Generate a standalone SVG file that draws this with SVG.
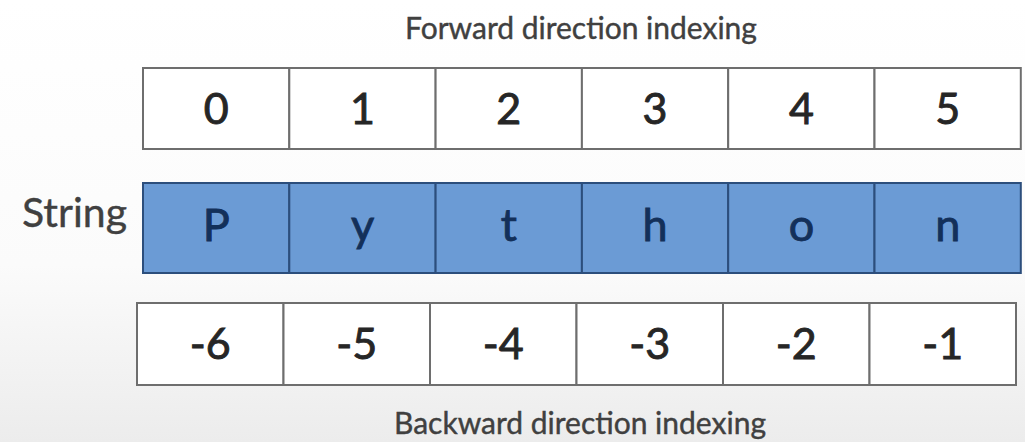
<svg xmlns="http://www.w3.org/2000/svg" width="1025" height="442" viewBox="0 0 1025 442">
  <defs>
    <linearGradient id="bg" x1="0" y1="0" x2="0" y2="1">
      <stop offset="0" stop-color="#ffffff"/>
      <stop offset="0.6" stop-color="#fbfbfb"/>
      <stop offset="1" stop-color="#ececec"/>
    </linearGradient>
    <style>
      .label { font-family: Lato, "Open Sans", "Liberation Sans", sans-serif; fill: #404040; stroke: #404040; stroke-width: 0.4px; }
      .cap { font-size: 30px; text-anchor: middle; }
      .idx rect { fill: #ffffff; stroke: #6e6e6e; stroke-width: 2; }
      .idx text { font-family: Lato, "Open Sans", "Liberation Sans", sans-serif; font-size: 43px; fill: #262626; stroke: #262626; stroke-width: 0.9px; text-anchor: middle; }
      .chr rect { fill: #6b9bd5; stroke: #2c4e7c; stroke-width: 2; }
      .chr text { font-family: Lato, "Open Sans", "Liberation Sans", sans-serif; font-size: 45px; fill: #13305a; stroke: #13305a; stroke-width: 0.9px; text-anchor: middle; }
    </style>
  </defs>
  <rect x="0" y="0" width="1025" height="442" fill="url(#bg)"/>

  <text class="label cap" x="581" y="39">Forward direction indexing</text>
  <text class="label" x="22" y="227" font-size="41">String</text>
  <text class="label cap" x="580" y="434">Backward direction indexing</text>

  <!-- Forward index row -->
  <g id="fwd-0" class="idx"><rect x="143" y="68" width="146.3" height="81"/><text x="216.2" y="124">0</text></g>
  <g id="fwd-1" class="idx"><rect x="289.3" y="68" width="146.3" height="81"/><text x="362.5" y="124">1</text></g>
  <g id="fwd-2" class="idx"><rect x="435.6" y="68" width="146.3" height="81"/><text x="508.8" y="124">2</text></g>
  <g id="fwd-3" class="idx"><rect x="581.9" y="68" width="146.3" height="81"/><text x="655.1" y="124">3</text></g>
  <g id="fwd-4" class="idx"><rect x="728.2" y="68" width="146.3" height="81"/><text x="801.4" y="124">4</text></g>
  <g id="fwd-5" class="idx"><rect x="874.5" y="68" width="146.3" height="81"/><text x="947.7" y="124">5</text></g>

  <!-- String characters row -->
  <g id="chr-P" class="chr"><rect x="143" y="183" width="146.3" height="90"/><text x="216.2" y="241">P</text></g>
  <g id="chr-y" class="chr"><rect x="289.3" y="183" width="146.3" height="90"/><text x="362.5" y="241">y</text></g>
  <g id="chr-t" class="chr"><rect x="435.6" y="183" width="146.3" height="90"/><text x="508.8" y="241">t</text></g>
  <g id="chr-h" class="chr"><rect x="581.9" y="183" width="146.3" height="90"/><text x="655.1" y="241">h</text></g>
  <g id="chr-o" class="chr"><rect x="728.2" y="183" width="146.3" height="90"/><text x="801.4" y="241">o</text></g>
  <g id="chr-n" class="chr"><rect x="874.5" y="183" width="146.3" height="90"/><text x="947.7" y="241">n</text></g>

  <!-- Backward index row -->
  <g id="bwd-6" class="idx"><rect x="137" y="303" width="146.5" height="82"/><text x="210.2" y="359">-6</text></g>
  <g id="bwd-5" class="idx"><rect x="283.5" y="303" width="146.5" height="82"/><text x="356.7" y="359">-5</text></g>
  <g id="bwd-4" class="idx"><rect x="430" y="303" width="146.5" height="82"/><text x="503.2" y="359">-4</text></g>
  <g id="bwd-3" class="idx"><rect x="576.5" y="303" width="146.5" height="82"/><text x="649.7" y="359">-3</text></g>
  <g id="bwd-2" class="idx"><rect x="723" y="303" width="146.5" height="82"/><text x="796.2" y="359">-2</text></g>
  <g id="bwd-1" class="idx"><rect x="869.5" y="303" width="146.5" height="82"/><text x="942.7" y="359">-1</text></g>
</svg>
